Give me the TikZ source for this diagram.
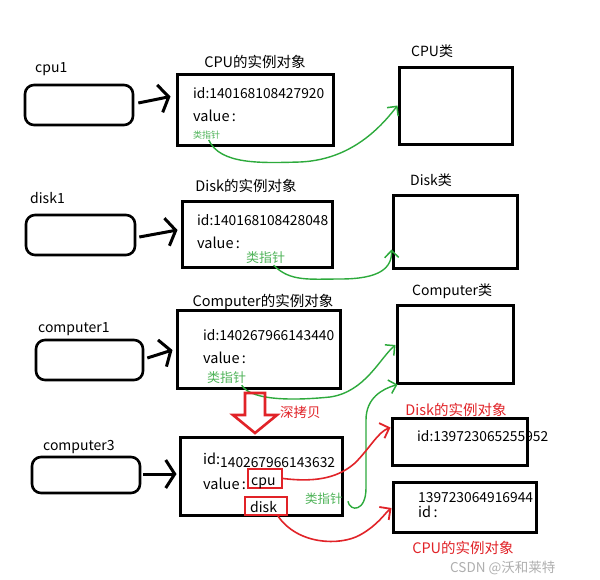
\documentclass[tikz,border=0pt]{standalone}
\usepackage{fontspec}
\setmainfont{Noto Sans CJK SC}
\usetikzlibrary{arrows.meta}
\definecolor{gline}{RGB}{45,170,60}
\definecolor{gtext}{RGB}{80,180,90}
\definecolor{rline}{RGB}{225,35,40}
\definecolor{wm}{RGB}{175,175,175}
\tikzset{
  lbl/.style={font=\fontsize{14}{16}\selectfont, inner sep=0pt, anchor=base west},
  vlbl/.style={font=\fontsize{14.5}{16}\selectfont, inner sep=0pt, anchor=base west},
  idlbl/.style={font=\fontsize{13.8}{15}\selectfont, inner sep=0pt, anchor=base west},
  ttl/.style={font=\fontsize{14.5}{16}\selectfont, inner sep=0pt, anchor=base},
  objbox/.style={draw, line width=3pt, inner sep=0pt},
  varbox/.style={draw, line width=2.6pt, rounded corners=9pt, inner sep=0pt},
  refbox/.style={draw=rline, line width=2.2pt, inner sep=0pt},
  blk/.style={line width=3pt, -{Straight Barb[length=9pt, width=28pt, line width=3pt]}},
  garrow/.style={gline, line width=1.4pt, -{Straight Barb[length=7pt, width=14pt, line width=1.5pt]}},
  rarrow/.style={rline, line width=1.6pt, -{Straight Barb[length=8pt, width=16pt, line width=1.8pt]}},
}
\begin{document}
\begin{tikzpicture}[x=1pt, y=-1pt]
\useasboundingbox (0,0) rectangle (600,579);
\fill[white] (0,0) rectangle (600,579);

% ---------- row 1: cpu1 ----------
\node[lbl] (cpu1lbl) at (35,72) {cpu1};
\node[varbox, minimum width=108pt, minimum height=40pt] (cpu1box) at (79,105) {};
\node[ttl] (cpuobjlbl) at (255,67) {CPU的实例对象};
\node[objbox, minimum width=156pt, minimum height=71pt] (cpuobj) at (255,109.5) {};
\node[idlbl] (cpuid) at (193,98) {id:140168108427920};
\node[vlbl] (cpuval) at (193,121) {value\,:};
\node[lbl, font=\fontsize{9}{10}\selectfont, text=gtext] (cpuptr) at (193,138) {类指针};
\node[lbl] (cpuclslbl) at (411,56) {CPU类};
\node[objbox, minimum width=113pt, minimum height=77pt] (cpucls) at (455.5,105.5) {};
\draw[blk] ([shift={(4,-2)}]cpu1box.east) -- ([shift={(-5,-13)}]cpuobj.west);
\draw[garrow] ([shift={(2,1)}]cpuptr.south) .. controls (220,165) and (262,163) .. (300,162)
  .. controls (345,160) and (375,135) .. ([shift={(0,0)}]cpucls.west);

% ---------- row 2: disk1 ----------
\node[lbl] (disk1lbl) at (30,203) {disk1};
\node[varbox, minimum width=109pt, minimum height=40pt] (disk1box) at (80.5,235) {};
\node[ttl] (diskobjlbl) at (246,191) {Disk的实例对象};
\node[objbox, minimum width=150pt, minimum height=66pt] (diskobj) at (257,234) {};
\node[idlbl] (diskid) at (197,225) {id:140168108428048};
\node[vlbl] (diskval) at (197,248) {value\,:};
\node[lbl, font=\fontsize{13}{15}\selectfont, text=gtext] (diskptr) at (246,262) {类指针};
\node[lbl] (diskclslbl) at (410,185) {Disk类};
\node[objbox, minimum width=124pt, minimum height=73pt] (diskcls) at (455,231.5) {};
\draw[blk] ([shift={(3,2)}]disk1box.east) -- ([shift={(-3,-4)}]diskobj.west);
\draw[garrow] ([shift={(8,2)}]diskptr.south) .. controls (290,282) and (310,279) .. (340,279)
  .. controls (380,279) and (392,268) .. ([shift={(0,18)}]diskcls.west);

% ---------- row 3: computer1 ----------
\node[lbl] (comp1lbl) at (38,332) {computer1};
\node[varbox, minimum width=107pt, minimum height=40pt] (comp1box) at (89.5,360) {};
\node[ttl] (comp1objlbl) at (263,306) {Computer的实例对象};
\node[objbox, minimum width=163pt, minimum height=78pt] (comp1obj) at (258.5,349) {};
\node[idlbl] (comp1id) at (203,340) {id:140267966143440};
\node[vlbl] (comp1val) at (203,363) {value\,:};
\node[lbl, font=\fontsize{13}{15}\selectfont, text=gtext] (comp1ptr) at (207,382) {类指针};
\node[lbl] (compclslbl) at (412,295) {Computer类};
\node[objbox, minimum width=116pt, minimum height=78pt] (compcls) at (455,344) {};
\draw[blk] ([shift={(3,-2)}]comp1box.east) -- ([shift={(-3,1)}]comp1obj.west);
\draw[garrow] ([shift={(15,2)}]comp1ptr.south) .. controls (252,402) and (300,400) .. (330,397)
  .. controls (365,392) and (380,358) .. ([shift={(0,1)}]compcls.west);

% ---------- deep copy arrow ----------
\draw[rline, line width=2.6pt, line join=miter] (245,393) -- (265,393) -- (265,415) -- (277,415)
  -- (255,433) -- (233,415) -- (245,415) -- cycle;
\node[lbl, font=\fontsize{13.5}{15}\selectfont, text=rline] (deepcopy) at (280,417) {深拷贝};

% ---------- row 4: computer3 ----------
\node[lbl] (comp3lbl) at (43,450) {computer3};
\node[varbox, minimum width=108pt, minimum height=36pt] (comp3box) at (86,475) {};
\node[objbox, minimum width=162pt, minimum height=78pt] (comp3obj) at (261,476) {};
\node[vlbl] (comp3idk) at (203,464) {id:};
\node[idlbl] (comp3id) at (220,467) {140267966143632};
\node[vlbl] (comp3val) at (203,489) {value\,:};
\node[refbox, minimum width=34pt, minimum height=19pt] (cpuref) at (265,478.5) {};
\node[lbl] (cpureftxt) at (251,485) {cpu};
\node[refbox, minimum width=42pt, minimum height=18pt] (diskref) at (266,506) {};
\node[lbl] (diskreftxt) at (250,512) {disk};
\node[lbl, font=\fontsize{12.5}{15}\selectfont, text=gtext] (comp3ptr) at (305,503) {类指针};
\draw[blk] ([shift={(2,-1)}]comp3box.east) -- ([shift={(-2,-2)}]comp3obj.west);
\draw[garrow] ([shift={(5,3)}]comp3ptr.east) .. controls (350,512) and (366,512) .. (366,488)
  -- (366,420) .. controls (366,398) and (382,389) .. ([shift={(2,0)}]compcls.south west);

% ---------- copied Disk / CPU objects ----------
\node[ttl, text=rline] (disk2lbl) at (456,415) {Disk的实例对象};
\node[objbox, minimum width=135pt, minimum height=47pt] (disk2obj) at (459.5,441.5) {};
\node[idlbl] (disk2id) at (417,441) {id:139723065255952};
\node[objbox, minimum width=143pt, minimum height=50pt] (cpu2obj) at (464.5,507) {};
\node[idlbl] (cpu2num) at (418,502) {139723064916944};
\node[vlbl] (cpu2id) at (418,517) {id\,:};
\node[ttl, text=rline] (cpu2lbl) at (463,553) {CPU的实例对象};
\draw[rarrow] (cpuref.east) .. controls (320,483) and (340,476) .. (355,463)
  .. controls (370,448) and (378,432) .. ([shift={(0,-14)}]disk2obj.west);
\draw[rarrow] ([shift={(12,0)}]diskref.south) .. controls (298,545) and (340,546) .. (360,535)
  .. controls (378,525) and (386,512) .. ([shift={(0,1)}]cpu2obj.west);

% ---------- watermark ----------
\node[lbl, font=\fontsize{13.5}{16}\selectfont, text=wm] (wmark) at (450,572) {CSDN @沃和莱特};
\end{tikzpicture}
\end{document}
